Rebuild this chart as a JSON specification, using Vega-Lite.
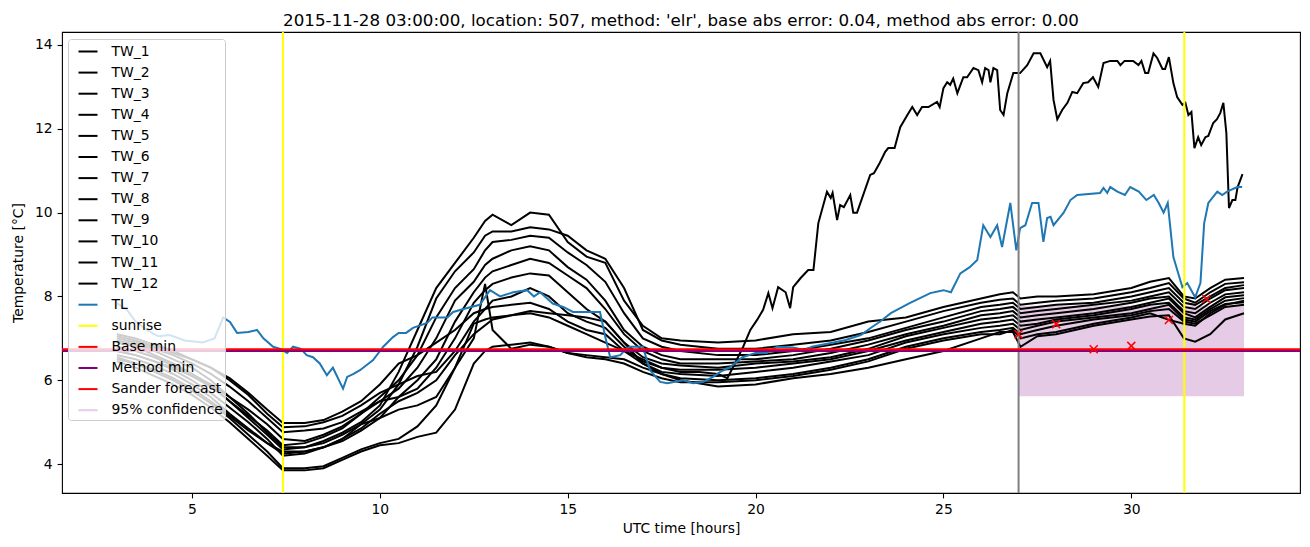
{
"$schema": "https://vega.github.io/schema/vega-lite/v6.json",
"width": 1238, "height": 461,
"autosize": {"type": "none"},
"padding": {"left": 62, "top": 32, "right": 10, "bottom": 54},
"background": "white",
"title": {"text": "2015-11-28 03:00:00, location: 507, method: 'elr', base abs error: 0.04, method abs error: 0.00", "font": "DejaVu Sans", "fontSize": 16.7, "fontWeight": "normal", "color": "black", "anchor": "middle", "baseline": "bottom", "offset": 5, "dy": 21},
"config": {
  "font": "DejaVu Sans",
  "view": {"stroke": "black", "strokeWidth": 1.1},
  "axis": {"domain": false, "grid": false, "ticks": true, "tickSize": 4.9, "tickWidth": 1.1, "tickColor": "black", "labelFont": "DejaVu Sans", "labelFontSize": 13.9, "labelColor": "black", "labelPadding": 4.9, "titleFont": "DejaVu Sans", "titleFontSize": 13.9, "titleFontWeight": "normal", "titleColor": "black", "titlePadding": 5},
  "axisY": {"titlePadding": 9},
  "legend": {"orient": "none", "legendX": 6, "legendY": 7, "padding": 2,
     "fillColor": "rgba(255,255,255,0.8)", "strokeColor": "#cccccc", "cornerRadius": 3,
     "labelFont": "DejaVu Sans", "labelFontSize": 13.9, "labelColor": "black", "labelLimit": 300,
     "symbolSize": 361, "symbolStrokeWidth": 2, "rowPadding": 3.1, "labelOffset": 13, "symbolOffset": 7.5, "symbolType": "stroke"}
},
"datasets": {
"grid": [
{"t":3,"TW_1":6.9,"TW_2":6.95,"TW_3":6.8,"TW_4":6.7,"TW_5":6.6,"TW_6":7.0,"TW_7":7.1,"TW_8":7.05,"TW_9":6.5,"TW_10":6.45,"TW_11":6.55},
{"t":3.5,"TW_1":6.8,"TW_2":6.85,"TW_3":6.7,"TW_4":6.6,"TW_5":6.5,"TW_6":6.9,"TW_7":7.0,"TW_8":6.95,"TW_9":6.4,"TW_10":6.3,"TW_11":6.4},
{"t":4,"TW_1":6.6,"TW_2":6.7,"TW_3":6.55,"TW_4":6.45,"TW_5":6.35,"TW_6":6.75,"TW_7":6.85,"TW_8":6.8,"TW_9":6.25,"TW_10":6.1,"TW_11":6.2},
{"t":4.5,"TW_1":6.4,"TW_2":6.5,"TW_3":6.35,"TW_4":6.3,"TW_5":6.15,"TW_6":6.6,"TW_7":6.7,"TW_8":6.65,"TW_9":6.05,"TW_10":5.9,"TW_11":6.0},
{"t":5,"TW_1":6.15,"TW_2":6.3,"TW_3":6.1,"TW_4":6.1,"TW_5":5.9,"TW_6":6.4,"TW_7":6.5,"TW_8":6.5,"TW_9":5.8,"TW_10":5.65,"TW_11":5.75},
{"t":5.5,"TW_1":5.9,"TW_2":6.0,"TW_3":5.85,"TW_4":5.9,"TW_5":5.6,"TW_6":6.15,"TW_7":6.3,"TW_8":6.3,"TW_9":5.5,"TW_10":5.35,"TW_11":5.45},
{"t":6,"TW_1":5.5,"TW_2":5.6,"TW_3":5.5,"TW_4":5.6,"TW_5":5.2,"TW_6":5.85,"TW_7":6.0,"TW_8":6.05,"TW_9":5.15,"TW_10":5.0,"TW_11":5.1},
{"t":6.5,"TW_1":5.1,"TW_2":5.2,"TW_3":5.15,"TW_4":5.3,"TW_5":4.85,"TW_6":5.5,"TW_7":5.65,"TW_8":5.7,"TW_9":4.8,"TW_10":4.6,"TW_11":4.7},
{"t":7,"TW_1":4.7,"TW_2":4.75,"TW_3":4.8,"TW_4":4.95,"TW_5":4.5,"TW_6":5.1,"TW_7":5.2,"TW_8":5.3,"TW_9":4.5,"TW_10":4.2,"TW_11":4.3},
{"t":7.42,"TW_1":4.35,"TW_2":4.4,"TW_3":4.45,"TW_4":4.6,"TW_5":4.25,"TW_6":4.76,"TW_7":4.88,"TW_8":4.98,"TW_9":4.3,"TW_10":3.85,"TW_11":3.9},
{"t":8,"TW_1":4.4,"TW_2":4.4,"TW_3":4.5,"TW_4":4.55,"TW_5":4.3,"TW_6":4.8,"TW_7":4.9,"TW_8":4.98,"TW_9":4.3,"TW_10":3.85,"TW_11":3.9},
{"t":8.5,"TW_1":4.55,"TW_2":4.5,"TW_3":4.65,"TW_4":4.7,"TW_5":4.4,"TW_6":4.85,"TW_7":5.0,"TW_8":5.05,"TW_9":4.4,"TW_10":3.9,"TW_11":3.95},
{"t":9,"TW_1":4.75,"TW_2":4.7,"TW_3":4.85,"TW_4":4.9,"TW_5":4.55,"TW_6":5.0,"TW_7":5.15,"TW_8":5.25,"TW_9":4.6,"TW_10":4.1,"TW_11":4.15},
{"t":9.5,"TW_1":5.0,"TW_2":4.95,"TW_3":5.2,"TW_4":5.2,"TW_5":4.8,"TW_6":5.25,"TW_7":5.4,"TW_8":5.5,"TW_9":4.95,"TW_10":4.3,"TW_11":4.35},
{"t":10,"TW_1":5.4,"TW_2":5.3,"TW_3":5.6,"TW_4":5.5,"TW_5":5.1,"TW_6":5.5,"TW_7":5.7,"TW_8":5.9,"TW_9":5.1,"TW_10":4.45,"TW_11":4.5},
{"t":10.5,"TW_1":6.2,"TW_2":5.9,"TW_3":6.0,"TW_4":5.8,"TW_5":5.6,"TW_6":5.6,"TW_7":5.9,"TW_8":6.4,"TW_9":5.3,"TW_10":4.5,"TW_11":4.6},
{"t":11,"TW_1":7.2,"TW_2":6.8,"TW_3":6.6,"TW_4":6.3,"TW_5":6.0,"TW_6":5.8,"TW_7":6.1,"TW_8":6.6,"TW_9":5.4,"TW_10":4.65,"TW_11":4.9},
{"t":11.5,"TW_1":8.2,"TW_2":7.95,"TW_3":7.5,"TW_4":7.0,"TW_5":6.5,"TW_6":6.3,"TW_7":6.2,"TW_8":6.9,"TW_9":5.6,"TW_10":4.75,"TW_11":5.4},
{"t":12,"TW_1":8.8,"TW_2":8.6,"TW_3":8.2,"TW_4":7.9,"TW_5":7.4,"TW_6":7.0,"TW_7":6.7,"TW_8":7.2,"TW_9":6.3,"TW_10":5.3,"TW_11":6.3},
{"t":12.5,"TW_1":9.4,"TW_2":9.05,"TW_3":8.65,"TW_4":8.35,"TW_5":8.1,"TW_6":7.85,"TW_7":7.4,"TW_8":7.6,"TW_9":7.35,"TW_10":6.4,"TW_11":7.0},
{"t":12.8,"TW_1":9.8,"TW_2":9.45,"TW_3":9.1,"TW_4":8.75,"TW_5":8.45,"TW_6":8.15,"TW_7":7.7,"TW_8":7.7,"TW_9":7.45,"TW_10":6.7,"TW_11":8.3},
{"t":13,"TW_1":9.95,"TW_2":9.55,"TW_3":9.3,"TW_4":8.9,"TW_5":8.6,"TW_6":8.3,"TW_7":7.9,"TW_8":7.75,"TW_9":7.5,"TW_10":6.8,"TW_11":7.2},
{"t":13.5,"TW_1":9.7,"TW_2":9.55,"TW_3":9.35,"TW_4":9.1,"TW_5":8.75,"TW_6":8.45,"TW_7":8.0,"TW_8":7.8,"TW_9":7.55,"TW_10":6.85,"TW_11":6.75},
{"t":14,"TW_1":10.0,"TW_2":9.65,"TW_3":9.45,"TW_4":9.2,"TW_5":8.9,"TW_6":8.55,"TW_7":8.2,"TW_8":7.85,"TW_9":7.65,"TW_10":6.9,"TW_11":6.85},
{"t":14.5,"TW_1":9.95,"TW_2":9.6,"TW_3":9.4,"TW_4":9.1,"TW_5":8.8,"TW_6":8.5,"TW_7":8.0,"TW_8":7.7,"TW_9":7.6,"TW_10":6.8,"TW_11":6.8},
{"t":15,"TW_1":9.3,"TW_2":9.45,"TW_3":9.05,"TW_4":8.7,"TW_5":8.5,"TW_6":8.1,"TW_7":7.6,"TW_8":7.4,"TW_9":7.55,"TW_10":6.65,"TW_11":6.65},
{"t":15.5,"TW_1":8.95,"TW_2":9.1,"TW_3":8.75,"TW_4":8.4,"TW_5":8.2,"TW_6":7.7,"TW_7":7.4,"TW_8":7.2,"TW_9":7.5,"TW_10":6.6,"TW_11":6.55},
{"t":16,"TW_1":8.8,"TW_2":8.9,"TW_3":8.35,"TW_4":7.9,"TW_5":7.7,"TW_6":7.4,"TW_7":7.25,"TW_8":7.1,"TW_9":7.4,"TW_10":6.55,"TW_11":6.5},
{"t":16.5,"TW_1":7.9,"TW_2":8.2,"TW_3":7.6,"TW_4":7.2,"TW_5":7.1,"TW_6":6.9,"TW_7":6.8,"TW_8":6.7,"TW_9":6.9,"TW_10":6.5,"TW_11":6.4},
{"t":17,"TW_1":7.3,"TW_2":7.2,"TW_3":7.0,"TW_4":6.8,"TW_5":6.7,"TW_6":6.55,"TW_7":6.45,"TW_8":6.4,"TW_9":6.4,"TW_10":6.3,"TW_11":6.2},
{"t":17.5,"TW_1":7.0,"TW_2":6.95,"TW_3":6.8,"TW_4":6.6,"TW_5":6.5,"TW_6":6.4,"TW_7":6.3,"TW_8":6.2,"TW_9":6.15,"TW_10":6.15,"TW_11":6.05},
{"t":18,"TW_1":6.95,"TW_2":6.85,"TW_3":6.7,"TW_4":6.5,"TW_5":6.4,"TW_6":6.35,"TW_7":6.25,"TW_8":6.15,"TW_9":6.05,"TW_10":6.0,"TW_11":5.95},
{"t":19,"TW_1":6.9,"TW_2":6.75,"TW_3":6.6,"TW_4":6.5,"TW_5":6.4,"TW_6":6.3,"TW_7":6.25,"TW_8":6.1,"TW_9":6.0,"TW_10":5.85,"TW_11":5.95},
{"t":20,"TW_1":6.95,"TW_2":6.75,"TW_3":6.6,"TW_4":6.5,"TW_5":6.45,"TW_6":6.4,"TW_7":6.3,"TW_8":6.2,"TW_9":6.05,"TW_10":5.9,"TW_11":6.0},
{"t":21,"TW_1":7.1,"TW_2":6.85,"TW_3":6.7,"TW_4":6.6,"TW_5":6.5,"TW_6":6.45,"TW_7":6.4,"TW_8":6.3,"TW_9":6.15,"TW_10":6.05,"TW_11":6.1},
{"t":22,"TW_1":7.15,"TW_2":6.95,"TW_3":6.85,"TW_4":6.75,"TW_5":6.65,"TW_6":6.55,"TW_7":6.5,"TW_8":6.45,"TW_9":6.3,"TW_10":6.15,"TW_11":6.25},
{"t":23,"TW_1":7.4,"TW_2":7.15,"TW_3":7.0,"TW_4":6.95,"TW_5":6.85,"TW_6":6.75,"TW_7":6.7,"TW_8":6.6,"TW_9":6.5,"TW_10":6.3,"TW_11":6.45},
{"t":24,"TW_1":7.5,"TW_2":7.4,"TW_3":7.25,"TW_4":7.2,"TW_5":7.1,"TW_6":7.05,"TW_7":6.95,"TW_8":6.9,"TW_9":6.8,"TW_10":6.5,"TW_11":6.75},
{"t":25,"TW_1":7.75,"TW_2":7.65,"TW_3":7.5,"TW_4":7.4,"TW_5":7.3,"TW_6":7.25,"TW_7":7.15,"TW_8":7.1,"TW_9":7.0,"TW_10":6.7,"TW_11":6.95},
{"t":26,"TW_1":7.95,"TW_2":7.85,"TW_3":7.75,"TW_4":7.65,"TW_5":7.55,"TW_6":7.45,"TW_7":7.35,"TW_8":7.25,"TW_9":7.15,"TW_10":7.0,"TW_11":7.1},
{"t":26.5,"TW_1":8.05,"TW_2":7.92,"TW_3":7.8,"TW_4":7.7,"TW_5":7.6,"TW_6":7.5,"TW_7":7.4,"TW_8":7.3,"TW_9":7.2,"TW_10":7.15,"TW_11":7.1},
{"t":26.85,"TW_1":8.1,"TW_2":7.95,"TW_3":7.85,"TW_4":7.75,"TW_5":7.65,"TW_6":7.55,"TW_7":7.45,"TW_8":7.35,"TW_9":7.25,"TW_10":7.15,"TW_11":7.2},
{"t":27.05,"TW_1":7.95,"TW_2":7.8,"TW_3":7.7,"TW_4":7.6,"TW_5":7.5,"TW_6":7.4,"TW_7":7.3,"TW_8":7.2,"TW_9":7.1,"TW_10":6.8,"TW_11":7.0},
{"t":27.5,"TW_1":8.0,"TW_2":7.85,"TW_3":7.75,"TW_4":7.65,"TW_5":7.55,"TW_6":7.45,"TW_7":7.35,"TW_8":7.3,"TW_9":7.2,"TW_10":7.05,"TW_11":7.1},
{"t":28,"TW_1":8.0,"TW_2":7.9,"TW_3":7.8,"TW_4":7.7,"TW_5":7.6,"TW_6":7.5,"TW_7":7.45,"TW_8":7.4,"TW_9":7.3,"TW_10":7.1,"TW_11":7.15},
{"t":29,"TW_1":8.05,"TW_2":7.95,"TW_3":7.85,"TW_4":7.8,"TW_5":7.7,"TW_6":7.6,"TW_7":7.55,"TW_8":7.5,"TW_9":7.45,"TW_10":7.3,"TW_11":7.35},
{"t":30,"TW_1":8.2,"TW_2":8.1,"TW_3":8.0,"TW_4":7.9,"TW_5":7.85,"TW_6":7.75,"TW_7":7.7,"TW_8":7.6,"TW_9":7.55,"TW_10":7.45,"TW_11":7.5},
{"t":30.5,"TW_1":8.35,"TW_2":8.2,"TW_3":8.1,"TW_4":8.0,"TW_5":7.95,"TW_6":7.85,"TW_7":7.8,"TW_8":7.7,"TW_9":7.65,"TW_10":7.52,"TW_11":7.6},
{"t":31,"TW_1":8.44,"TW_2":8.32,"TW_3":8.2,"TW_4":8.1,"TW_5":8.0,"TW_6":7.95,"TW_7":7.85,"TW_8":7.8,"TW_9":7.7,"TW_10":7.55,"TW_11":7.44},
{"t":31.4,"TW_1":8.0,"TW_2":7.95,"TW_3":7.85,"TW_4":7.75,"TW_5":7.65,"TW_6":7.6,"TW_7":7.5,"TW_8":7.45,"TW_9":7.4,"TW_10":7.0,"TW_11":7.35},
{"t":31.7,"TW_1":7.95,"TW_2":7.85,"TW_3":7.8,"TW_4":7.7,"TW_5":7.6,"TW_6":7.5,"TW_7":7.45,"TW_8":7.4,"TW_9":7.35,"TW_10":6.92,"TW_11":7.3},
{"t":32.1,"TW_1":8.2,"TW_2":8.1,"TW_3":8.0,"TW_4":7.95,"TW_5":7.85,"TW_6":7.75,"TW_7":7.7,"TW_8":7.65,"TW_9":7.55,"TW_10":7.1,"TW_11":7.6},
{"t":32.5,"TW_1":8.4,"TW_2":8.3,"TW_3":8.2,"TW_4":8.15,"TW_5":8.05,"TW_6":7.98,"TW_7":7.9,"TW_8":7.82,"TW_9":7.75,"TW_10":7.45,"TW_11":7.8},
{"t":33,"TW_1":8.44,"TW_2":8.34,"TW_3":8.27,"TW_4":8.2,"TW_5":8.1,"TW_6":8.03,"TW_7":7.96,"TW_8":7.86,"TW_9":7.8,"TW_10":7.6,"TW_11":7.9}
],
"hi": [
{"t":3,"v":6.7},{"t":3.5,"v":6.6},{"t":4,"v":6.45},{"t":4.5,"v":6.25},{"t":5,"v":6.0},{"t":5.5,"v":5.7},{"t":6,"v":5.35},{"t":6.5,"v":5.0},{"t":7,"v":4.6},{"t":7.42,"v":4.2},{"t":8,"v":4.25},{"t":8.5,"v":4.4},{"t":9,"v":4.6},{"t":9.5,"v":4.85},{"t":10,"v":5.2},{"t":10.5,"v":5.5},{"t":11,"v":5.7},{"t":11.5,"v":6.0},{"t":12,"v":6.6},{"t":12.5,"v":7.1},{"t":13,"v":7.45},{"t":13.5,"v":7.55},{"t":14,"v":7.6},{"t":14.5,"v":7.5},{"t":15,"v":7.3},{"t":15.5,"v":7.1},{"t":16,"v":6.9},{"t":16.5,"v":6.7},{"t":17,"v":6.5},{"t":17.5,"v":6.3},{"t":18,"v":6.2},{"t":18.5,"v":6.2},{"t":19,"v":6.15},{"t":19.25,"v":6.05},{"t":19.45,"v":6.4},
{"t":19.67,"v":6.8},{"t":19.86,"v":7.2},{"t":20.04,"v":7.44},{"t":20.2,"v":7.68},{"t":20.34,"v":8.08},{"t":20.45,"v":7.72},{"t":20.6,"v":8.22},{"t":20.8,"v":8.1},{"t":20.92,"v":7.72},{"t":21.0,"v":8.22},{"t":21.2,"v":8.44},{"t":21.4,"v":8.63},{"t":21.54,"v":8.63},{"t":21.67,"v":9.75},{"t":21.9,"v":10.5},{"t":22.0,"v":10.35},{"t":22.05,"v":10.47},{"t":22.17,"v":9.82},{"t":22.25,"v":10.18},{"t":22.35,"v":10.13},{"t":22.52,"v":10.42},{"t":22.6,"v":10.0},{"t":22.7,"v":10.0},{"t":23.05,"v":10.9},{"t":23.15,"v":10.94},{"t":23.3,"v":11.18},{"t":23.45,"v":11.45},{"t":23.53,"v":11.54},{"t":23.7,"v":11.54},{"t":23.85,"v":12.04},{"t":24.04,"v":12.33},{"t":24.17,"v":12.52},{"t":24.3,"v":12.33},{"t":24.43,"v":12.52},{"t":24.6,"v":12.52},{"t":24.83,"v":12.64},{"t":24.9,"v":12.52},{"t":25.0,"v":12.97},{"t":25.1,"v":13.11},{"t":25.18,"v":13.05},{"t":25.26,"v":13.2},{"t":25.37,"v":12.85},{"t":25.53,"v":13.23},{"t":25.63,"v":13.23},{"t":25.8,"v":13.45},{"t":25.93,"v":13.4},{"t":26.03,"v":13.11},{"t":26.11,"v":13.45},{"t":26.2,"v":13.4},{"t":26.25,"v":13.11},{"t":26.33,"v":13.45},{"t":26.43,"v":13.4},{"t":26.51,"v":12.45},{"t":26.6,"v":12.33},{"t":26.7,"v":12.85},{"t":26.86,"v":13.33},{"t":27.04,"v":13.33},{"t":27.23,"v":13.52},{"t":27.4,"v":13.8},{"t":27.58,"v":13.8},{"t":27.76,"v":13.47},{"t":27.84,"v":13.62},{"t":27.93,"v":12.69},{"t":28.03,"v":12.23},{"t":28.16,"v":12.45},{"t":28.3,"v":12.62},{"t":28.43,"v":12.88},{"t":28.56,"v":12.85},{"t":28.72,"v":13.09},{"t":28.85,"v":13.11},{"t":28.98,"v":13.23},{"t":29.12,"v":13.0},{"t":29.26,"v":13.57},{"t":29.44,"v":13.62},{"t":29.63,"v":13.62},{"t":29.71,"v":13.52},{"t":29.82,"v":13.62},{"t":30.05,"v":13.62},{"t":30.19,"v":13.52},{"t":30.27,"v":13.62},{"t":30.37,"v":13.33},{"t":30.45,"v":13.33},{"t":30.59,"v":13.8},{"t":30.69,"v":13.69},{"t":30.83,"v":13.43},{"t":30.9,"v":13.43},{"t":31.0,"v":13.71},{"t":31.12,"v":13.09},{"t":31.22,"v":12.76},{"t":31.36,"v":12.57},{"t":31.44,"v":12.62},{"t":31.52,"v":12.33},{"t":31.6,"v":12.4},{"t":31.68,"v":11.54},{"t":31.78,"v":11.8},{"t":31.86,"v":11.61},{"t":31.97,"v":11.8},{"t":32.05,"v":11.83},{"t":32.18,"v":12.14},{"t":32.28,"v":12.23},{"t":32.37,"v":12.38},{"t":32.45,"v":12.62},{"t":32.53,"v":11.9},{"t":32.6,"v":10.11},{"t":32.69,"v":10.3},{"t":32.77,"v":10.3},{"t":32.83,"v":10.61},{"t":32.96,"v":10.92}
],
"tl": [
{"t":3.0,"v":7.84},{"t":3.27,"v":7.68},{"t":3.5,"v":7.4},{"t":3.8,"v":7.2},{"t":4.1,"v":7.05},{"t":4.41,"v":7.08},{"t":4.8,"v":6.95},{"t":5.29,"v":6.9},{"t":5.6,"v":7.0},{"t":5.83,"v":7.5},{"t":6.01,"v":7.39},{"t":6.2,"v":7.13},{"t":6.5,"v":7.15},{"t":6.73,"v":7.2},{"t":6.9,"v":7.0},{"t":7.16,"v":6.8},{"t":7.35,"v":6.75},{"t":7.53,"v":6.65},{"t":7.69,"v":6.8},{"t":7.9,"v":6.75},{"t":8.05,"v":6.6},{"t":8.22,"v":6.55},{"t":8.4,"v":6.4},{"t":8.59,"v":6.12},{"t":8.75,"v":6.3},{"t":9.02,"v":5.8},{"t":9.13,"v":6.08},{"t":9.3,"v":6.15},{"t":9.47,"v":6.24},{"t":9.82,"v":6.48},{"t":10.09,"v":6.8},{"t":10.35,"v":7.03},{"t":10.5,"v":7.13},{"t":10.7,"v":7.13},{"t":10.88,"v":7.25},{"t":11.26,"v":7.37},{"t":11.4,"v":7.5},{"t":11.8,"v":7.5},{"t":11.95,"v":7.63},{"t":12.3,"v":7.72},{"t":12.66,"v":7.8},{"t":12.93,"v":8.15},{"t":13.2,"v":8.0},{"t":13.55,"v":8.1},{"t":13.92,"v":8.15},{"t":14.1,"v":8.0},{"t":14.27,"v":8.1},{"t":14.6,"v":7.83},{"t":14.88,"v":7.75},{"t":15.14,"v":7.63},{"t":15.86,"v":7.63},{"t":16.0,"v":7.03},{"t":16.13,"v":6.55},{"t":16.4,"v":6.6},{"t":16.55,"v":6.75},{"t":16.66,"v":6.8},{"t":17.0,"v":6.8},{"t":17.19,"v":6.24},{"t":17.46,"v":5.96},{"t":17.65,"v":5.93},{"t":18.07,"v":6.0},{"t":18.34,"v":5.93},{"t":18.6,"v":5.96},{"t":18.87,"v":6.08},{"t":19.06,"v":6.2},{"t":19.3,"v":6.3},{"t":19.65,"v":6.55},{"t":20.0,"v":6.65},{"t":20.3,"v":6.65},{"t":20.57,"v":6.8},{"t":21.0,"v":6.78},{"t":21.3,"v":6.72},{"t":21.5,"v":6.8},{"t":22.07,"v":6.9},{"t":22.4,"v":6.96},{"t":22.8,"v":7.08},{"t":23.1,"v":7.27},{"t":23.3,"v":7.39},{"t":23.6,"v":7.6},{"t":24.1,"v":7.84},{"t":24.65,"v":8.08},{"t":25.0,"v":8.15},{"t":25.2,"v":8.1},{"t":25.45,"v":8.55},{"t":25.7,"v":8.7},{"t":25.9,"v":8.87},{"t":26.06,"v":9.7},{"t":26.25,"v":9.42},{"t":26.43,"v":9.7},{"t":26.56,"v":9.18},{"t":26.78,"v":10.23},{"t":26.94,"v":9.1},{"t":27.04,"v":9.63},{"t":27.18,"v":9.7},{"t":27.36,"v":10.23},{"t":27.53,"v":10.23},{"t":27.66,"v":9.3},{"t":27.76,"v":9.87},{"t":27.85,"v":9.9},{"t":27.93,"v":9.7},{"t":28.2,"v":10.0},{"t":28.38,"v":10.3},{"t":28.56,"v":10.42},{"t":29.17,"v":10.47},{"t":29.26,"v":10.59},{"t":29.36,"v":10.47},{"t":29.44,"v":10.61},{"t":29.63,"v":10.5},{"t":29.83,"v":10.42},{"t":29.97,"v":10.61},{"t":30.2,"v":10.5},{"t":30.4,"v":10.3},{"t":30.6,"v":10.42},{"t":30.73,"v":10.23},{"t":30.86,"v":10.0},{"t":30.97,"v":10.23},{"t":31.12,"v":8.94},{"t":31.36,"v":8.22},{"t":31.49,"v":8.32},{"t":31.7,"v":7.98},{"t":31.84,"v":8.32},{"t":31.94,"v":9.75},{"t":32.05,"v":10.23},{"t":32.29,"v":10.5},{"t":32.42,"v":10.42},{"t":32.55,"v":10.5},{"t":32.82,"v":10.61},{"t":32.95,"v":10.61}
]
},
"layer": [
{
 "data": {"values": [{"t0": 27, "t1": 33, "lo": 5.62, "hi": 7.78, "s": "95% confidence"}]},
 "mark": {"type": "rect", "opacity": 1},
 "encoding": {
  "x": {"field": "t0", "type": "quantitative", "title": "UTC time [hours]", "scale": {"domain": [1.54, 34.49], "nice": false, "zero": false}, "axis": {"values": [5, 10, 15, 20, 25, 30]}},
  "x2": {"field": "t1"},
  "y": {"field": "lo", "type": "quantitative", "title": "Temperature [°C]", "scale": {"domain": [3.31, 14.31], "nice": false, "zero": false}, "axis": {"values": [4, 6, 8, 10, 12, 14]}},
  "y2": {"field": "hi"},
  "color": {"field": "s", "type": "nominal",
   "scale": {"domain": ["TW_1","TW_2","TW_3","TW_4","TW_5","TW_6","TW_7","TW_8","TW_9","TW_10","TW_11","TW_12","TL","sunrise","Base min","Method min","Sander forecast","95% confidence"],
             "range": ["#000000","#000000","#000000","#000000","#000000","#000000","#000000","#000000","#000000","#000000","#000000","#000000","#1f77b4","#ffff00","#ff0000","#800080","#ff0000","#e5cbe5"]},
   "legend": {"title": null, "encode": {"symbols": {
        "update": {
          "shape": {"signal": "datum.value === 'Sander forecast' ? 'M-0.45,-0.45L0.45,0.45M-0.45,0.45L0.45,-0.45' : datum.value === '95% confidence' ? 'M-1.42,-0.48L1.42,-0.48L1.42,0.48L-1.42,0.48Z' : 'M-1.58,0L1.58,0'"},
          "strokeWidth": {"signal": "datum.value === 'Sander forecast' ? 1.5 : 2"}
        },
        "shape": {"value": {"expr": "datum.value === 'Sander forecast' ? 'M-0.45,-0.45L0.45,0.45M-0.45,0.45L0.45,-0.45' : datum.value === '95% confidence' ? 'M-1.42,-0.48L1.42,-0.48L1.42,0.48L-1.42,0.48Z' : 'M-1.58,0L1.58,0'"}},
        "strokeWidth": {"value": {"expr": "datum.value === 'Sander forecast' ? 1.5 : 2"}}
   }}}}
 }
},
{
 "data": {"name": "grid"},
 "transform": [{"fold": ["TW_1","TW_2","TW_3","TW_4","TW_5","TW_6","TW_7","TW_8","TW_9","TW_10","TW_11"], "as": ["s", "v"]}],
 "mark": {"type": "line", "strokeWidth": 2, "clip": true},
 "encoding": {
  "x": {"field": "t", "type": "quantitative", "title": "UTC time [hours]"},
  "y": {"field": "v", "type": "quantitative", "title": "Temperature [°C]"},
  "color": {"field": "s", "type": "nominal", "legend": {"title": null}}
 }
},
{
 "data": {"name": "hi"},
 "mark": {"type": "line", "strokeWidth": 2, "clip": true},
 "encoding": {
  "x": {"field": "t", "type": "quantitative", "title": "UTC time [hours]"},
  "y": {"field": "v", "type": "quantitative", "title": "Temperature [°C]"},
  "color": {"datum": "TW_12", "type": "nominal", "legend": {"title": null}}
 }
},
{
 "data": {"name": "tl"},
 "mark": {"type": "line", "strokeWidth": 2, "clip": true},
 "encoding": {
  "x": {"field": "t", "type": "quantitative", "title": "UTC time [hours]"},
  "y": {"field": "v", "type": "quantitative", "title": "Temperature [°C]"},
  "color": {"datum": "TL", "type": "nominal", "legend": {"title": null}}
 }
},
{
 "data": {"values": [{"t": 27}]},
 "mark": {"type": "rule", "color": "#808080", "strokeWidth": 2},
 "encoding": {"x": {"field": "t", "type": "quantitative", "title": "UTC time [hours]"}}
},
{
 "data": {"values": [{"t": 7.42, "s": "sunrise"}, {"t": 31.41, "s": "sunrise"}]},
 "mark": {"type": "rule", "strokeWidth": 2},
 "encoding": {"x": {"field": "t", "type": "quantitative", "title": "UTC time [hours]"}, "color": {"field": "s", "type": "nominal", "legend": {"title": null}}}
},
{
 "data": {"values": [{"v": 6.70, "s": "Method min"}, {"v": 6.74, "s": "Base min"}]},
 "mark": {"type": "rule", "strokeWidth": 2},
 "encoding": {"y": {"field": "v", "type": "quantitative", "title": "Temperature [°C]"}, "color": {"field": "s", "type": "nominal", "legend": {"title": null}}}
},
{
 "data": {"values": [{"t": 27, "v": 7.10, "s": "Sander forecast"}, {"t": 28, "v": 7.34, "s": "Sander forecast"}, {"t": 29, "v": 6.74, "s": "Sander forecast"}, {"t": 30, "v": 6.82, "s": "Sander forecast"}, {"t": 31, "v": 7.44, "s": "Sander forecast"}, {"t": 32, "v": 7.94, "s": "Sander forecast"}]},
 "mark": {"type": "point", "shape": "M-1,-1L1,1M-1,1L1,-1", "filled": false, "size": 64, "strokeWidth": 1.5, "opacity": 1},
 "encoding": {
  "x": {"field": "t", "type": "quantitative", "title": "UTC time [hours]"},
  "y": {"field": "v", "type": "quantitative", "title": "Temperature [°C]"},
  "color": {"field": "s", "type": "nominal", "legend": {"title": null}}
 }
}
]
}
